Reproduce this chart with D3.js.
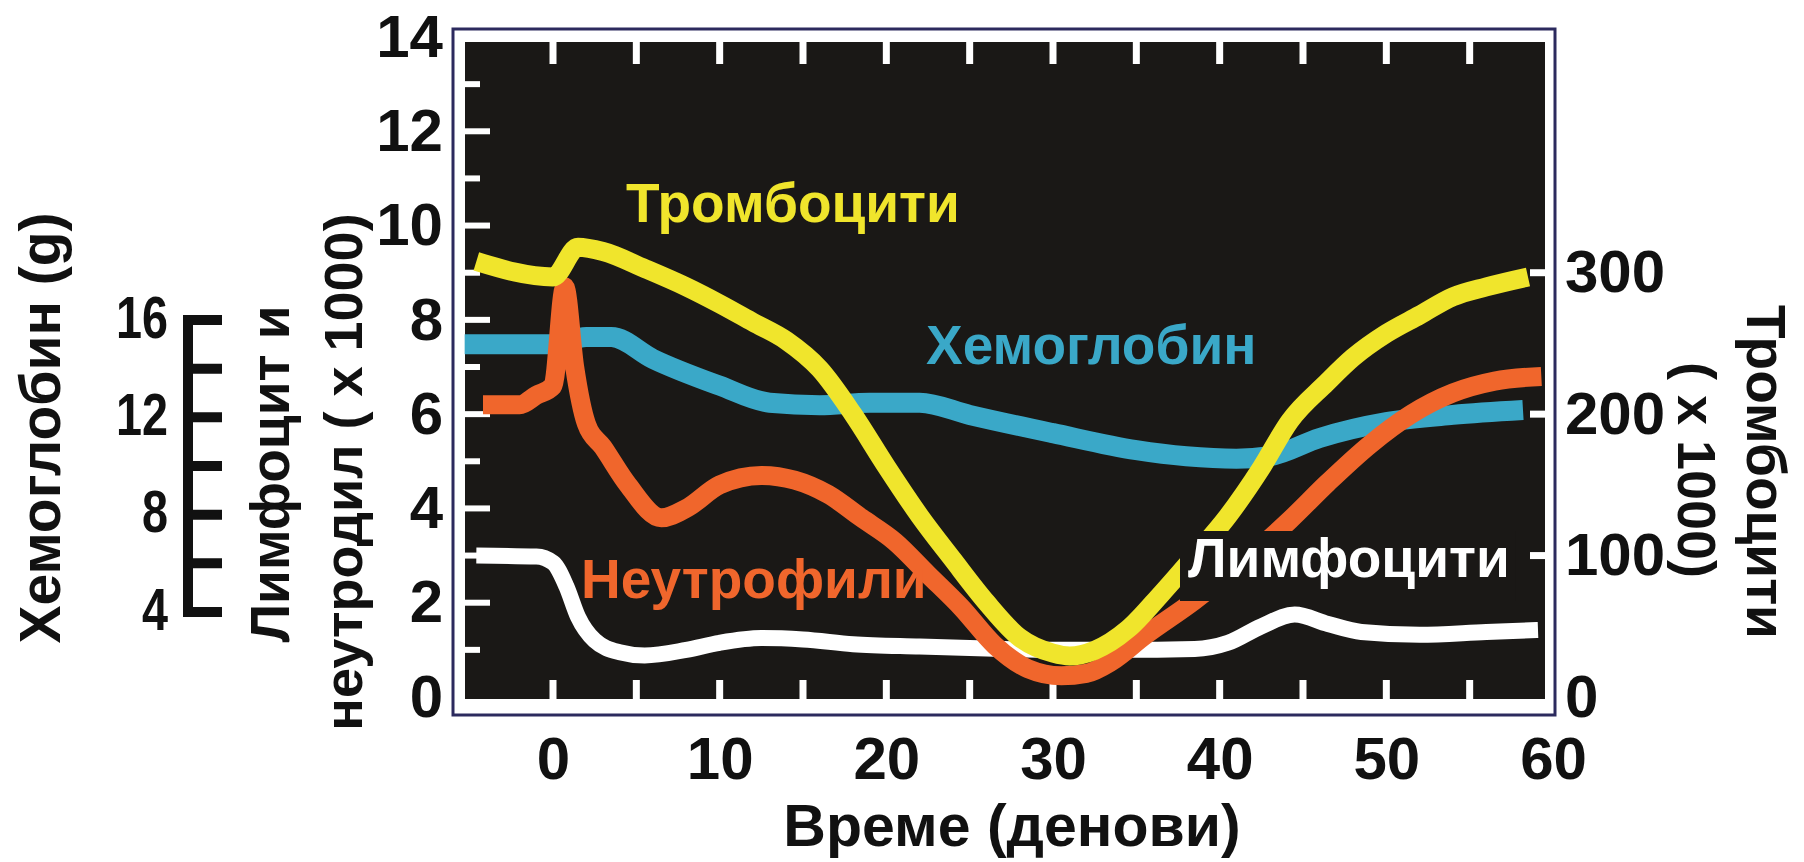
<!DOCTYPE html>
<html>
<head>
<meta charset="utf-8">
<script src="https://cdn.jsdelivr.net/npm/d3@7"></script>
<style>
  html, body { margin: 0; padding: 0; background: #ffffff; }
  svg { display: block; }
  text { font-family: "Liberation Sans", Arial, sans-serif; font-weight: bold; }
</style>
</head>
<body>
<svg id="chart" width="1804" height="862"></svg>
<script>
// ---------------- DATA ----------------
const xTicks = [0, 10, 20, 30, 40, 50, 60];
const leftTicks = [0, 2, 4, 6, 8, 10, 12, 14];
const rightTicks = [0, 100, 200, 300];
const hbTicks = [4, 8, 12, 16];
const hbMinorTicks = [4, 6, 8, 10, 12, 14, 16];

// Platelets (x 1000), right axis
const plateletDays = [-4.6, 0, 1.5, 3, 5.5, 8, 10, 12, 14, 16, 18, 20, 22, 24, 26, 28, 30, 31, 32.5, 34.5, 36.5, 38.5, 40.5, 42.5, 44.2, 46.4, 48, 50, 52, 54, 56, 58.5];
const plateletValues = [308, 297, 318, 315, 303, 290, 278, 265, 252, 232, 200, 163, 128, 97, 67, 42, 31, 29, 33, 48, 73, 100, 128, 162, 195, 222, 240, 257, 270, 283, 290, 297];

// Hemoglobin (g), bracket scale
const hbDays = [-5.3, 0, 2, 3.5, 6, 10, 13, 16, 19, 22, 25, 30, 35, 38, 41, 43, 46, 50, 54, 58.2];
const hbValues = [15.0, 15.0, 15.3, 15.3, 14.4, 13.3, 12.6, 12.5, 12.6, 12.6, 12.1, 11.35, 10.65, 10.4, 10.3, 10.4, 11.15, 11.8, 12.1, 12.3];

// Neutrophils (x 1000), left axis
const neutDays = [-4.2, -2, -1, 0, 0.7, 1.3, 2, 3, 4.5, 6.5, 8, 10, 12.5, 14.5, 16.5, 18.5, 20.5, 22.5, 24.5, 26.5, 28.5, 30.5, 32, 33.5, 35.5, 38.5, 41.5, 44.2, 46.5, 49, 51.5, 54, 56.5, 59.3];
const neutValues = [6.2, 6.2, 6.4, 6.6, 8.7, 7.0, 5.8, 5.3, 4.5, 3.8, 4.0, 4.5, 4.7, 4.6, 4.3, 3.8, 3.3, 2.6, 1.9, 1.1, 0.6, 0.45, 0.5, 0.75, 1.3, 2.05, 2.9, 3.75, 4.55, 5.35, 6.0, 6.45, 6.7, 6.8];

// Lymphocytes (x 1000), left axis
const lymphDays = [-4.6, -1, 0, 0.8, 1.5, 2.5, 4, 5.5, 8, 10, 12.5, 15, 18, 22, 26, 30, 34, 38.5, 40.5, 42.5, 44.5, 46.5, 48.5, 52, 56, 59.1];
const lymphValues = [3.0, 2.98, 2.85, 2.35, 1.7, 1.2, 0.95, 0.88, 1.0, 1.15, 1.25, 1.22, 1.12, 1.07, 1.03, 1.0, 1.0, 1.02, 1.15, 1.5, 1.75, 1.55, 1.38, 1.32, 1.38, 1.42];

const seriesLabels = ["Тромбоцити", "Хемоглобин", "Неутрофили", "Лимфоцити"];
const xTitle = "Време (денови)";
const leftTitle = ["Лимфоцит и", "неутродил ( x 1000)"];
const rightTitle = ["Тромбоцити", "( x 1000)"];
const hbTitle = "Хемоглобин (g)";

// ---------------- STYLE ----------------
const C = { yellow: "#f0e52c", blue: "#3aa8c8", orange: "#f0662c", white: "#ffffff", black: "#1a1816", navy: "#2c2a5e" };

const svg = d3.select("#chart");

const x = d3.scaleLinear().domain([0, 60]).range([553, 1553]);
const yL = d3.scaleLinear().domain([0, 14]).range([697, 37]);
const yR = d3.scaleLinear().domain([0, 300]).range([yL(0), yL(9)]);
const yHb = d3.scaleLinear().domain([4, 16]).range([612, 320]);

const frame = { x0: 453, y0: 29, x1: 1555, y1: 715 };
const inner = { x0: 465, y0: 42, x1: 1545, y1: 699 };

// Frame
svg.append("rect").attr("x", frame.x0).attr("y", frame.y0)
  .attr("width", frame.x1 - frame.x0).attr("height", frame.y1 - frame.y0)
  .attr("fill", "#ffffff").attr("stroke", C.navy).attr("stroke-width", 3);
svg.append("rect").attr("x", inner.x0).attr("y", inner.y0)
  .attr("width", inner.x1 - inner.x0).attr("height", inner.y1 - inner.y0)
  .attr("fill", C.black);

// Inner white ticks
const tg = svg.append("g").attr("stroke", "#ffffff").attr("stroke-linecap", "butt");
const leftMinor = d3.range(1, 14);
tg.selectAll(".lt").data(leftMinor).join("line")
  .attr("x1", inner.x0 - 4).attr("x2", d => inner.x0 + (d % 2 === 0 ? 25 : 15))
  .attr("y1", d => yL(d)).attr("y2", d => yL(d)).attr("stroke-width", 6);
const xMinor = d3.range(0, 60, 5);
tg.selectAll(".tt").data(xMinor).join("line")
  .attr("x1", d => x(d)).attr("x2", d => x(d))
  .attr("y1", inner.y0 - 4).attr("y2", inner.y0 + 22).attr("stroke-width", 7);
tg.selectAll(".bt").data(xMinor).join("line")
  .attr("x1", d => x(d)).attr("x2", d => x(d))
  .attr("y1", inner.y1 + 4).attr("y2", inner.y1 - 19).attr("stroke-width", 7);
tg.selectAll(".rt").data(rightTicks.filter(d => d > 0)).join("line")
  .attr("x1", inner.x1 + 4).attr("x2", inner.x1 - 15)
  .attr("y1", d => yR(d)).attr("y2", d => yR(d)).attr("stroke-width", 7);

// Lines
const plot = svg.append("g");
function drawLine(days, vals, yScale, color, width) {
  const data = days.map((d, i) => [d, vals[i]]);
  plot.append("path").datum(data)
    .attr("fill", "none").attr("stroke", color).attr("stroke-width", width)
    .attr("stroke-linejoin", "round").attr("stroke-linecap", "butt")
    .attr("d", d3.line().x(p => x(p[0])).y(p => yScale(p[1])).curve(d3.curveMonotoneX));
}
drawLine(lymphDays, lymphValues, yL, C.white, 16);
drawLine(hbDays, hbValues, yHb, C.blue, 20);
drawLine(neutDays, neutValues, yL, C.orange, 19);
drawLine(plateletDays, plateletValues, yR, C.yellow, 19);

// Series labels
const lblSize = 55;
function label(txt, xx, yy, color, box) {
  const g = svg.append("g");
  const t = g.append("text").attr("x", xx).attr("y", yy).attr("fill", color)
    .attr("font-size", lblSize).text(txt);
  if (box) {
    const b = t.node().getBBox();
    g.insert("rect", "text").attr("x", b.x - 8).attr("y", b.y + 4)
      .attr("width", b.width + 14).attr("height", b.height + 8).attr("fill", C.black);
  }
}
label(seriesLabels[0], 626, 222, C.yellow);
label(seriesLabels[1], 926, 364, C.blue);
label(seriesLabels[2], 581, 598, C.orange);
label(seriesLabels[3], 1188, 577, C.white, true);

// Axes
function styleAxis(g, size) {
  g.select(".domain").remove();
  g.selectAll(".tick line").remove();
  g.selectAll("text").attr("font-size", size).attr("fill", "#111").attr("font-family", null);
}
svg.append("g").attr("transform", `translate(0,${frame.y1})`)
  .call(d3.axisBottom(x).tickValues(xTicks).tickSize(0).tickPadding(21).tickFormat(d3.format("d")))
  .call(g => styleAxis(g, 60));
svg.append("g").attr("transform", `translate(${frame.x0},0)`)
  .call(d3.axisLeft(yL).tickValues(leftTicks).tickSize(0).tickPadding(10).tickFormat(d3.format("d")))
  .call(g => styleAxis(g, 60));
svg.append("g").attr("transform", `translate(${frame.x1},0)`)
  .call(d3.axisRight(yR).tickValues(rightTicks).tickSize(0).tickPadding(10).tickFormat(d3.format("d")))
  .call(g => styleAxis(g, 60));

// Hemoglobin bracket
const hbX = 188;
const hg = svg.append("g");
hg.append("line").attr("x1", hbX).attr("x2", hbX)
  .attr("y1", yHb(16) - 5).attr("y2", yHb(4) + 5)
  .attr("stroke", "#111").attr("stroke-width", 10);
hg.selectAll(".ht").data(hbMinorTicks).join("line")
  .attr("x1", hbX).attr("x2", hbX + 34)
  .attr("y1", d => yHb(d)).attr("y2", d => yHb(d))
  .attr("stroke", "#111").attr("stroke-width", 10);
hg.selectAll(".hl").data(hbTicks).join("text")
  .attr("x", hbX - 20).attr("y", d => yHb(d)).attr("dy", "0.3em")
  .attr("text-anchor", "end").attr("font-size", 59).attr("fill", "#111")
  .attr("textLength", d => String(d).length * 26).attr("lengthAdjust", "spacingAndGlyphs")
  .text(d => d);

// Titles
svg.append("text").attr("x", 1012).attr("y", 825).attr("dy", "0.35em")
  .attr("text-anchor", "middle").attr("font-size", 59).attr("fill", "#111").text(xTitle);

function vtitle(txt, cx, cy, rot, size) {
  svg.append("text").attr("transform", `translate(${cx},${cy}) rotate(${rot})`)
    .attr("text-anchor", "middle").attr("dominant-baseline", "central")
    .attr("font-size", size).attr("fill", "#111").text(txt);
}
vtitle(hbTitle, 40, 428, -90, 57);
vtitle(leftTitle[0], 270, 474, -90, 55);
vtitle(leftTitle[1], 343, 472, -90, 54);
vtitle(rightTitle[0], 1766, 472, 90, 55);
vtitle(rightTitle[1], 1697, 470, 90, 54);
</script>
</body>
</html>
